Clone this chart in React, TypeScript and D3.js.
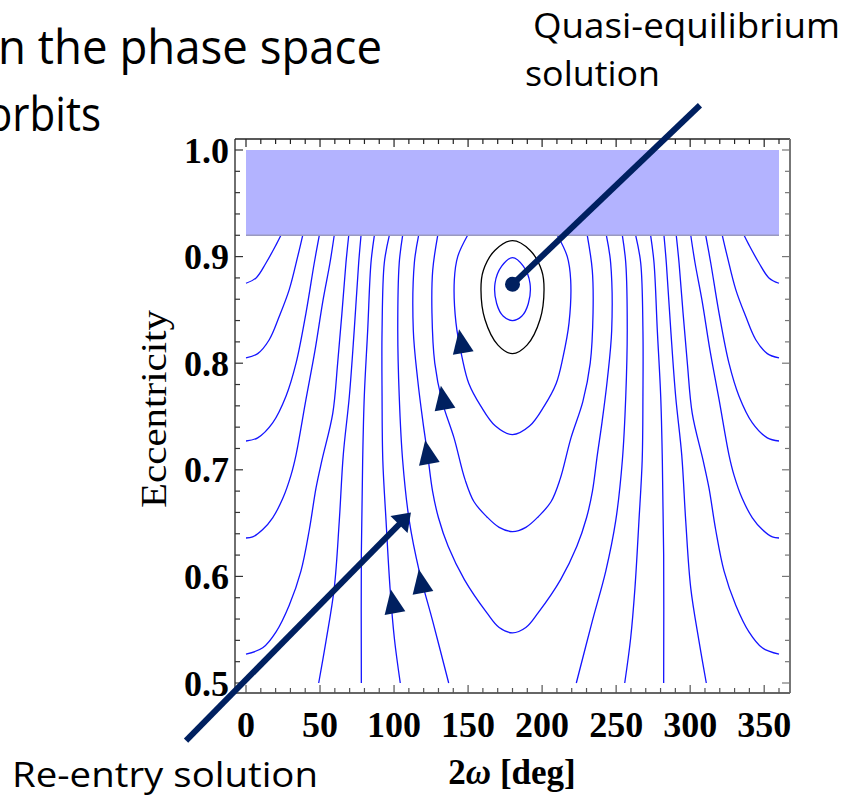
import React from 'react';
import * as d3 from 'd3';

// ---- axis ticks ----
const xTickValues = [0, 50, 100, 150, 200, 250, 300, 350];
const yTickValues = [0.5, 0.6, 0.7, 0.8, 0.9, 1.0];
const xDomain = [0, 360];
const yDomain = [0.5, 1.0];

// ---- forbidden region band (eccentricity) ----
const bandRange = [0.92, 1.0];

// ---- quasi-equilibrium point ----
const fixedPoint = [180, 0.874];

// ---- contour curves [2ω deg, e] ----
const edgeLeft1 = [[23.6, 0.92], [20.3, 0.911], [13.5, 0.894], [6.8, 0.88], [0, 0.875]];
const edgeLeft2 = [[38.3, 0.92], [34.9, 0.9], [29.2, 0.869], [22.5, 0.844], [15.7, 0.822], [7.9, 0.809], [0, 0.805]];
const edgeLeft3 = [[49.5, 0.92], [46.1, 0.894], [40.5, 0.847], [33.8, 0.8], [27.0, 0.769], [18.0, 0.744], [7.9, 0.73], [0, 0.727]];
const edgeLeft4 = [[59.6, 0.92], [56.7, 0.894], [52.0, 0.859], [46.6, 0.812], [40.5, 0.766], [33.8, 0.714], [30.4, 0.695], [24.8, 0.673], [18.0, 0.655], [11.3, 0.644], [4.5, 0.637], [0, 0.636]];
const edgeLeft5 = [[69.4, 0.92], [67.5, 0.894], [64.8, 0.847], [61.9, 0.8], [58.6, 0.753], [51.3, 0.709], [47.3, 0.683], [42.8, 0.644], [37.1, 0.605], [29.2, 0.573], [20.3, 0.548], [11.3, 0.533], [0, 0.527]];

const bottomLeft1 = [[77.7, 0.92], [76.1, 0.894], [73.1, 0.831], [69.8, 0.769], [65.7, 0.714], [63.0, 0.652], [59.6, 0.589], [54.0, 0.539], [49.1, 0.5]];
const bottomLeft2 = [[86.7, 0.92], [84.4, 0.894], [82.2, 0.831], [79.9, 0.769], [78.8, 0.709], [77.9, 0.62], [77.9, 0.5]];
const bottomLeft3 = [[96.8, 0.92], [93.4, 0.894], [91.9, 0.831], [91.9, 0.769], [92.4, 0.709], [94.6, 0.652], [97.3, 0.589], [100.2, 0.542], [104.2, 0.5]];
const bottomLeft4 = [[105.8, 0.92], [103.5, 0.894], [102.5, 0.831], [103.5, 0.769], [105.8, 0.709], [110.3, 0.652], [117.0, 0.605], [126.1, 0.558], [136.9, 0.5]];

const uCurve1 = [[149.7, 0.92], [143.0, 0.9], [140.7, 0.878], [141.8, 0.838], [146.0, 0.805], [150.5, 0.781], [158.5, 0.76], [168.5, 0.741], [180, 0.733], [191.5, 0.741], [201.5, 0.76], [209.5, 0.781], [214.0, 0.805], [218.2, 0.838], [219.3, 0.878], [217.0, 0.9], [210.3, 0.92]];
const uCurve2 = [[129.5, 0.92], [126.1, 0.887], [125.6, 0.847], [127.5, 0.8], [132.5, 0.764], [140.5, 0.73], [147.9, 0.691], [154.0, 0.67], [162.6, 0.656], [171.0, 0.646], [180, 0.642], [189.0, 0.646], [197.4, 0.656], [206.0, 0.67], [212.1, 0.691], [219.5, 0.73], [227.5, 0.764], [232.5, 0.8], [234.4, 0.847], [233.9, 0.887], [230.5, 0.92]];
const uCurve3 = [[116.6, 0.92], [113.7, 0.894], [113.0, 0.831], [116.0, 0.784], [119.5, 0.745], [122.7, 0.714], [126.0, 0.68], [130.0, 0.655], [136.6, 0.628], [147.5, 0.597], [162.6, 0.566], [171.0, 0.552], [180, 0.547], [189.0, 0.552], [197.4, 0.566], [212.5, 0.597], [223.4, 0.628], [230.0, 0.655], [234.0, 0.68], [237.3, 0.714], [240.5, 0.745], [244.0, 0.784], [247.0, 0.831], [246.3, 0.894], [243.4, 0.92]];

const bottomRight4 = [[254.2, 0.92], [256.5, 0.894], [257.5, 0.831], [256.5, 0.769], [254.2, 0.709], [249.7, 0.652], [243.0, 0.605], [233.9, 0.558], [223.1, 0.5]];
const bottomRight3 = [[263.2, 0.92], [266.6, 0.894], [268.1, 0.831], [268.1, 0.769], [267.6, 0.709], [265.4, 0.652], [262.7, 0.589], [259.8, 0.542], [255.8, 0.5]];
const bottomRight2 = [[273.3, 0.92], [275.6, 0.894], [277.8, 0.831], [280.1, 0.769], [281.2, 0.709], [282.1, 0.62], [282.1, 0.5]];
const bottomRight1 = [[282.3, 0.92], [283.9, 0.894], [286.9, 0.831], [290.2, 0.769], [294.3, 0.714], [297.0, 0.652], [300.4, 0.589], [306.0, 0.539], [310.9, 0.5]];

const edgeRight5 = [[290.6, 0.92], [292.5, 0.894], [295.2, 0.847], [298.1, 0.8], [301.4, 0.753], [308.7, 0.709], [312.7, 0.683], [317.2, 0.644], [322.9, 0.605], [330.8, 0.573], [339.7, 0.548], [348.7, 0.533], [360, 0.527]];
const edgeRight4 = [[300.4, 0.92], [303.3, 0.894], [308.0, 0.859], [313.4, 0.812], [319.5, 0.766], [326.2, 0.714], [329.6, 0.695], [335.2, 0.673], [342.0, 0.655], [348.7, 0.644], [355.5, 0.637], [360, 0.636]];
const edgeRight3 = [[310.5, 0.92], [313.9, 0.894], [319.5, 0.847], [326.2, 0.8], [333.0, 0.769], [342.0, 0.744], [352.1, 0.73], [360, 0.727]];
const edgeRight2 = [[321.7, 0.92], [325.1, 0.9], [330.8, 0.869], [337.5, 0.844], [344.3, 0.822], [352.1, 0.809], [360, 0.805]];
const edgeRight1 = [[336.4, 0.92], [339.7, 0.911], [346.5, 0.894], [353.2, 0.88], [360, 0.875]];

const openCurves = [
  edgeLeft1, edgeLeft2, edgeLeft3, edgeLeft4, edgeLeft5,
  bottomLeft1, bottomLeft2, bottomLeft3, bottomLeft4,
  uCurve1, uCurve2, uCurve3,
  bottomRight4, bottomRight3, bottomRight2, bottomRight1,
  edgeRight5, edgeRight4, edgeRight3, edgeRight2, edgeRight1,
];

// closed orbits around the fixed point
const separatrixOrbit = [[180, 0.915], [191.8, 0.906], [199.7, 0.887], [201.3, 0.869], [198.6, 0.841], [189.8, 0.817], [180, 0.809], [170.2, 0.817], [161.4, 0.841], [158.7, 0.869], [160.3, 0.887], [168.2, 0.906]];
const innerOrbit = [[180, 0.899], [187.3, 0.891], [191.8, 0.875], [190.7, 0.856], [186.2, 0.844], [180, 0.84], [173.8, 0.844], [169.3, 0.856], [168.2, 0.875], [172.7, 0.891]];

// direction arrowheads [2ω, e, rotation deg]
const flowArrows = [[145.8, 0.817, -10], [133.5, 0.764, -10], [122.9, 0.713, -10], [118.6, 0.592, -10], [99.7, 0.573, -10]];

// annotation pointer lines (data coords, extending outside the frame)
const quasiPointer = [[180, 0.874], [306.6, 1.042]];
const reentryPointer = [[-40.5, 0.446], [111.4, 0.66]];

const NAVY = '#002060';
const BLUE = '#1414ff';

export default function App() {
  const x = d3.scaleLinear().domain(xDomain).range([246, 779]);
  const y = d3.scaleLinear().domain(yDomain).range([683, 150]);
  const line = d3.line<number[]>().x(d => x(d[0])).y(d => y(d[1])).curve(d3.curveCatmullRom.alpha(0.5));
  const closedLine = d3.line<number[]>().x(d => x(d[0])).y(d => y(d[1])).curve(d3.curveCatmullRomClosed.alpha(0.5));

  const fx0 = 235, fx1 = 790, fy0 = 139, fy1 = 693;
  const xMinor = d3.range(0, 361, 10);
  const yMinor = d3.range(0, 26).map(i => 0.5 + i * 0.02);
  const isMajorX = (v: number) => v % 50 === 0;
  const isMajorY = (v: number) => Math.abs(v * 10 - Math.round(v * 10)) < 1e-6;

  // re-entry arrowhead
  const [p0, p1] = reentryPointer;
  const ax0 = x(p0[0]), ay0 = y(p0[1]), ax1 = x(p1[0]), ay1 = y(p1[1]);
  const len = Math.hypot(ax1 - ax0, ay1 - ay0);
  const ux = (ax1 - ax0) / len, uy = (ay1 - ay0) / len;
  const headLen = 17, headHalf = 12;
  const bx = ax1 - ux * headLen, by = ay1 - uy * headLen;
  const head = `M${ax1},${ay1}L${bx - uy * headHalf},${by + ux * headHalf}L${bx + uy * headHalf},${by - ux * headHalf}Z`;

  const serif = "'Liberation Serif', 'Times New Roman', serif";
  const sans = "'Open Sans', 'Noto Sans', sans-serif";

  return (
    <svg width={851} height={796} style={{ position: 'absolute', left: 0, top: 0, background: '#fff' }}>
      <rect x={0} y={0} width={851} height={796} fill="#fff" />
      {/* contours */}
      <g fill="none" stroke={BLUE} strokeWidth={1.3}>
        {openCurves.map((c, i) => <path key={i} d={line(c) || ''} />)}
        <path d={closedLine(innerOrbit) || ''} />
      </g>
      <path d={closedLine(separatrixOrbit) || ''} fill="none" stroke="#000" strokeWidth={1.3} />
      {/* band */}
      <rect x={x(0)} y={y(bandRange[1])} width={x(360) - x(0)} height={y(bandRange[0]) - y(bandRange[1])} fill="#b3b3ff" />
      <line x1={x(0)} x2={x(360)} y1={y(bandRange[0])} y2={y(bandRange[0])} stroke="#9a9ac0" strokeWidth={1.5} />
      {/* frame */}
      <line x1={fx0} x2={fx1} y1={fy0} y2={fy0} stroke="#222" strokeWidth={1.3} />
      <line x1={fx0} x2={fx0} y1={fy0} y2={fy1} stroke="#222" strokeWidth={1.3} />
      <line x1={fx1} x2={fx1} y1={fy0} y2={fy1} stroke="#777" strokeWidth={2} />
      <line x1={fx0} x2={fx1} y1={fy1} y2={fy1} stroke="#666" strokeWidth={2} />
      {xMinor.map(v => {
        const l = isMajorX(v) ? 8 : 5;
        return (
          <g key={'xt' + v}>
            <line x1={x(v)} x2={x(v)} y1={fy1} y2={fy1 - l} stroke="#555" strokeWidth={1.2} />
            <line x1={x(v)} x2={x(v)} y1={fy0} y2={fy0 + l} stroke="#222" strokeWidth={1.2} />
          </g>
        );
      })}
      {yMinor.map(v => {
        const l = isMajorY(v) ? 8 : 5;
        return (
          <g key={'yt' + v}>
            <line x1={fx0} x2={fx0 + l} y1={y(v)} y2={y(v)} stroke="#333" strokeWidth={1.2} />
            <line x1={fx1} x2={fx1 - l} y1={y(v)} y2={y(v)} stroke="#777" strokeWidth={1.2} />
          </g>
        );
      })}
      {/* tick labels */}
      <g fontFamily={serif} fontSize={36} fontWeight="bold" fill="#000">
        {xTickValues.map(v => (
          <text key={'xl' + v} x={x(v)} y={737} textAnchor="middle">{v}</text>
        ))}
        {yTickValues.map(v => (
          <text key={'yl' + v} x={229} y={y(v) + 12.5} textAnchor="end">{v.toFixed(1)}</text>
        ))}
      </g>
      <text transform="translate(166,409) rotate(-90)" textAnchor="middle" fontFamily={serif} fontSize={36} textLength={198} lengthAdjust="spacingAndGlyphs">Eccentricity</text>
      <text x={512} y={784} textAnchor="middle" fontFamily={serif} fontSize={35} fontWeight="bold">
        2<tspan fontStyle="italic">ω</tspan> [deg]
      </text>
      {/* flow arrows */}
      {flowArrows.map((a, i) => (
        <path key={'fa' + i} d="M0,-16L10.5,8L-10.5,8Z" fill={NAVY}
          transform={`translate(${x(a[0])},${y(a[1])}) rotate(${a[2]})`} />
      ))}
      {/* annotation pointers */}
      <line x1={x(quasiPointer[0][0])} y1={y(quasiPointer[0][1])} x2={x(quasiPointer[1][0])} y2={y(quasiPointer[1][1])} stroke={NAVY} strokeWidth={6} />
      <circle cx={x(fixedPoint[0])} cy={y(fixedPoint[1])} r={7.5} fill={NAVY} />
      <line x1={ax0} y1={ay0} x2={bx + ux * 2} y2={by + uy * 2} stroke={NAVY} strokeWidth={6} />
      <path d={head} fill={NAVY} />
      {/* slide texts */}
      <g fontFamily={sans} fill="#000">
        <text x={-2} y={64} fontSize={47} textLength={384} lengthAdjust="spacingAndGlyphs">n the phase space</text>
        <text x={-13} y={131} fontSize={47} textLength={114} lengthAdjust="spacingAndGlyphs">orbits</text>
        <text x={533} y={38} fontSize={35} textLength={307} lengthAdjust="spacingAndGlyphs">Quasi-equilibrium</text>
        <text x={525} y={86} fontSize={35} textLength={135} lengthAdjust="spacingAndGlyphs">solution</text>
        <text x={12} y={787} fontSize={35} textLength={306} lengthAdjust="spacingAndGlyphs">Re-entry solution</text>
      </g>
    </svg>
  );
}
